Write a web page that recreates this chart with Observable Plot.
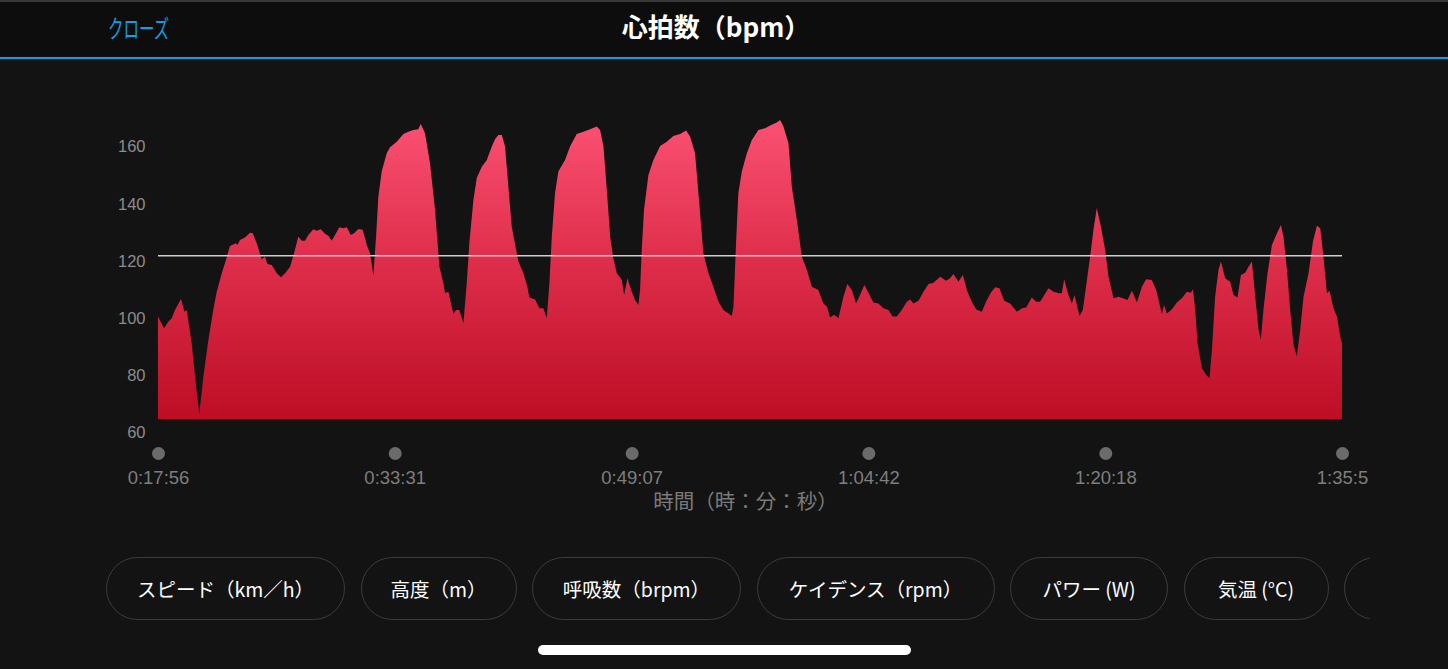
<!DOCTYPE html>
<html lang="ja">
<head>
<meta charset="utf-8">
<script src="https://cdn.jsdelivr.net/npm/d3@7"></script>
<script src="https://cdn.jsdelivr.net/npm/@observablehq/plot@0.6"></script>
<style>
  html, body { margin: 0; padding: 0; }
  body {
    width: 1448px; height: 669px; background: #131313; overflow: hidden; position: relative;
    font-family: "Liberation Sans", "Noto Sans CJK JP", sans-serif;
  }
  #header {
    position: absolute; left: 0; top: 0; width: 1448px; height: 56px;
    background: #0d0d0d; border-top: 2px solid #383838; box-sizing: border-box;
  }
  #blue { position: absolute; left: 0; top: 56.5px; width: 1448px; height: 2.5px; background: #1a9ad8; }
  #close {
    position: absolute; left: 108px; top: 8px; color: #1a9be0; font-size: 25px;
    font-family: "Noto Sans CJK JP", sans-serif; transform: scaleX(0.62); transform-origin: left center;
    white-space: nowrap; line-height: 34px;
  }
  #title {
    position: absolute; left: 0; width: 1432px; top: 7px; text-align: center; color: #fff;
    font-size: 26px; font-weight: bold; font-family: "Noto Sans CJK JP", sans-serif; line-height: 34px;
  }
  #chart { position: absolute; left: 0; top: 60px; }
  #pills {
    position: absolute; left: 106px; top: 557px; width: 1264px; height: 64px; overflow: hidden;
    display: flex; gap: 15.5px;
  }
  .pill {
    flex: none; height: 63px; box-sizing: border-box; border: 1.5px solid #3c3c3c; border-radius: 32px;
    color: #ffffff; font-size: 19.5px; font-family: "Noto Sans CJK JP", sans-serif;
    display: flex; align-items: center; justify-content: center; white-space: nowrap;
  }
  #home { position: absolute; left: 538px; top: 645px; width: 373px; height: 10px; border-radius: 5px; background: #fff; }
</style>
</head>
<body>
<div id="header"><div id="close">クローズ</div><div id="title">心拍数（bpm）</div></div>
<div id="blue"></div>
<div id="chart"></div>
<div id="pills"></div>
<div id="home"></div>
<script>
// ---- data ----
const minutes = [
17.93,18.33,18.61,18.84,19.05,19.45,19.67,19.82,20.15,20.37,20.65,20.92,21.25,21.57,21.80,22.13,22.41,22.67,23.07,23.16,
23.33,23.66,23.99,24.17,24.43,24.76,24.98,25.13,25.42,25.75,26.03,26.30,26.63,26.89,27.17,27.40,27.61,27.83,28.16,28.38,
28.65,28.93,29.15,29.37,29.59,29.87,30.13,30.36,30.62,30.84,31.12,31.41,31.68,31.89,32.11,32.29,32.44,32.66,32.99,33.21,
33.65,34.09,34.42,34.74,35.07,35.23,35.51,35.84,36.17,36.46,36.72,36.83,37.05,37.38,37.56,37.77,38.04,38.26,38.43,38.70,
38.92,39.25,39.58,39.91,40.12,40.34,40.57,40.78,41.00,41.22,41.66,41.99,42.25,42.38,42.76,43.04,43.30,43.53,43.70,43.86,
44.07,44.29,44.73,45.06,45.50,45.94,46.38,46.82,47.04,47.26,47.48,47.70,47.91,48.14,48.47,48.62,48.84,49.12,49.34,49.56,
49.67,49.78,49.93,50.22,50.55,50.99,51.43,51.86,52.31,52.70,52.96,53.29,53.51,53.84,54.17,54.50,54.83,55.16,55.49,55.71,
55.82,55.99,56.14,56.37,56.70,57.03,57.46,57.90,58.34,58.67,58.89,59.11,59.44,59.66,59.99,60.32,60.65,60.98,61.41,61.74,
61.97,62.18,62.45,62.73,63.06,63.32,63.61,63.89,64.20,64.44,64.70,65.03,65.36,65.69,66.02,66.29,66.57,66.90,67.23,67.45,
67.67,68.00,68.33,68.66,68.99,69.43,69.82,70.08,70.30,70.63,70.92,71.22,71.51,71.80,72.17,72.45,72.76,73.05,73.33,73.64,
74.03,74.48,74.81,75.09,75.46,75.75,76.01,76.56,76.89,77.22,77.44,77.59,77.87,78.10,78.27,78.60,78.82,79.09,79.30,79.52,
79.74,80.01,80.29,80.51,80.84,81.17,81.46,81.76,82.05,82.38,82.71,82.99,83.36,83.65,84.02,84.17,84.35,84.68,85.01,85.34,
85.67,85.93,86.07,86.22,86.37,86.66,86.94,87.16,87.32,87.53,87.75,87.91,88.19,88.52,88.74,89.00,89.23,89.51,89.73,89.95,
90.17,90.39,90.54,90.71,90.98,91.27,91.55,91.86,92.03,92.26,92.47,92.69,92.91,93.13,93.35,93.68,93.97,94.23,94.45,94.66,
94.89,95.06,95.32,95.55,95.76,95.88
];
const bpm = [
100.6,96.5,98.8,100.0,102.9,106.7,102.3,102.9,91.3,79.6,66.5,79.6,92.4,102.9,109.3,115.7,120.4,125.3,126.2,125.6,
127.4,128.2,129.9,129.7,126.2,120.6,121.5,119.0,118.6,115.7,114.3,115.7,118.0,122.7,128.5,127.1,127.1,129.1,131.1,130.6,
131.1,129.5,128.8,127.1,129.1,131.8,131.5,131.8,129.1,129.7,131.2,130.9,125.6,122.7,115.1,128.5,142.5,151.3,157.7,159.8,
161.7,164.4,165.2,165.8,166.1,167.9,164.7,154.2,137.9,118.0,112.2,108.7,109.3,101.5,102.9,102.9,98.3,112.2,126.2,141.4,
149.0,153.0,155.3,160.0,162.6,164.1,164.1,160.0,146.0,132.0,119.8,115.7,111.0,107.3,106.6,103.5,103.5,100.0,112.2,128.5,
143.7,151.3,155.3,160.0,164.4,165.2,166.1,167.0,165.8,160.0,144.9,128.5,121.0,115.7,113.4,108.1,114.0,109.3,106.4,104.6,
109.9,123.9,137.9,150.1,155.3,160.2,161.7,163.7,164.4,165.6,163.5,157.7,143.7,122.7,115.7,111.0,105.8,102.9,101.7,100.8,
104.1,126.2,143.7,151.3,157.7,162.3,165.8,166.4,167.6,168.4,169.3,167.0,161.2,146.0,134.4,121.5,116.9,111.0,109.9,105.2,
104.1,100.3,101.2,100.0,107.5,112.0,109.9,105.2,108.7,111.6,108.9,105.5,105.2,103.5,102.9,100.6,100.6,102.9,105.8,106.6,
105.2,106.1,109.3,112.0,112.4,114.5,113.1,114.0,115.5,112.8,115.1,109.3,105.8,103.1,102.3,105.8,108.9,110.8,110.5,106.1,
105.2,102.3,103.5,103.8,107.3,105.8,105.8,110.5,109.3,108.7,108.7,113.6,108.1,105.2,108.1,100.8,102.9,113.4,121.5,130.9,
138.5,132.0,123.9,114.5,107.0,107.5,107.0,106.4,109.6,105.5,111.0,113.6,113.4,109.9,101.5,104.6,101.7,103.1,105.5,107.0,
109.3,108.9,110.1,102.9,91.3,82.5,80.2,79.0,88.9,107.5,116.9,119.8,114.0,112.8,108.1,107.3,115.1,115.9,118.0,119.8,
107.5,95.9,92.4,102.9,115.7,125.6,129.1,132.6,128.5,116.9,102.9,90.7,86.6,95.9,107.5,115.7,126.8,132.3,131.5,121.5,
108.7,109.6,103.5,100.6,93.6,91.3
];
const avgBpm = 122;            // horizontal reference line
const areaFloor = 64.7;        // bottom of the filled area
const yTicks = [60, 80, 100, 120, 140, 160];
const xTickMinutes = [17.933, 33.517, 49.117, 64.7, 80.3, 95.883];
const xTickLabels = ["0:17:56", "0:33:31", "0:49:07", "1:04:42", "1:20:18", "1:35:5"];
const xAxisLabel = "時間（時：分：秒）";
const pillLabels = ["スピード（km／h）", "高度（m）", "呼吸数（brpm）", "ケイデンス（rpm）", "パワー (W)", "気温 (°C)", ""];

// ---- layout (not data) ----
const pillWidths = [239, 156, 209, 238, 158, 145, 120];

const rows = minutes.map((m, i) => ({m, bpm: bpm[i]}));

const plot = Plot.plot({
  width: 1448,
  height: 460,
  marginLeft: 158,
  marginRight: 106,
  marginTop: 58,
  marginBottom: 87.3,
  style: {background: "transparent", fontFamily: '"Liberation Sans", "Noto Sans CJK JP", sans-serif', overflow: "visible"},
  x: {domain: [xTickMinutes[0], xTickMinutes[xTickMinutes.length - 1]]},
  y: {domain: [60, 170]},
  marks: [
    Plot.areaY(rows, {x: "m", y1: areaFloor, y2: "bpm", fill: "url(#hrGrad)", curve: "linear"}),
    Plot.ruleY([avgBpm], {stroke: "#cfcfcf", strokeWidth: 1.5}),
    Plot.axisY({ticks: yTicks, tickSize: 0, tickPadding: 13, fontSize: 16.5, color: "#8c8c8c", label: null}),
    Plot.axisX({ticks: xTickMinutes, tickFormat: d => xTickLabels[xTickMinutes.indexOf(d)], tickSize: 0, tickPadding: 37.5, fontSize: 18.5, color: "#7e7e7e", label: null}),
    Plot.dot(xTickMinutes, {x: d => d, frameAnchor: "bottom", dy: 20.3, r: 6.5, fill: "#6b6b6b", stroke: "none"}),
    Plot.text([xAxisLabel], {text: d => d, frameAnchor: "bottom", dy: 75.5, dx: -5, fontSize: 20.5, fill: "#7a7a7a", fontFamily: '"Noto Sans CJK JP", sans-serif'})
  ]
});

// gradient definition for the area fill
const ns = "http://www.w3.org/2000/svg";
const defs = document.createElementNS(ns, "defs");
const grad = document.createElementNS(ns, "linearGradient");
grad.setAttribute("id", "hrGrad");
grad.setAttribute("x1", "0"); grad.setAttribute("y1", "0");
grad.setAttribute("x2", "0"); grad.setAttribute("y2", "1");
[["0%", "#fb5173"], ["45%", "#df2f4c"], ["100%", "#bd0e25"]].forEach(([o, c]) => {
  const s = document.createElementNS(ns, "stop");
  s.setAttribute("offset", o); s.setAttribute("stop-color", c);
  grad.appendChild(s);
});
defs.appendChild(grad);
plot.insertBefore(defs, plot.firstChild);
document.getElementById("chart").appendChild(plot);

// bottom pills
const pills = document.getElementById("pills");
pillLabels.forEach((t, i) => {
  const d = document.createElement("div");
  d.className = "pill";
  d.style.width = pillWidths[i] + "px";
  d.textContent = t;
  pills.appendChild(d);
});
</script>
</body>
</html>
